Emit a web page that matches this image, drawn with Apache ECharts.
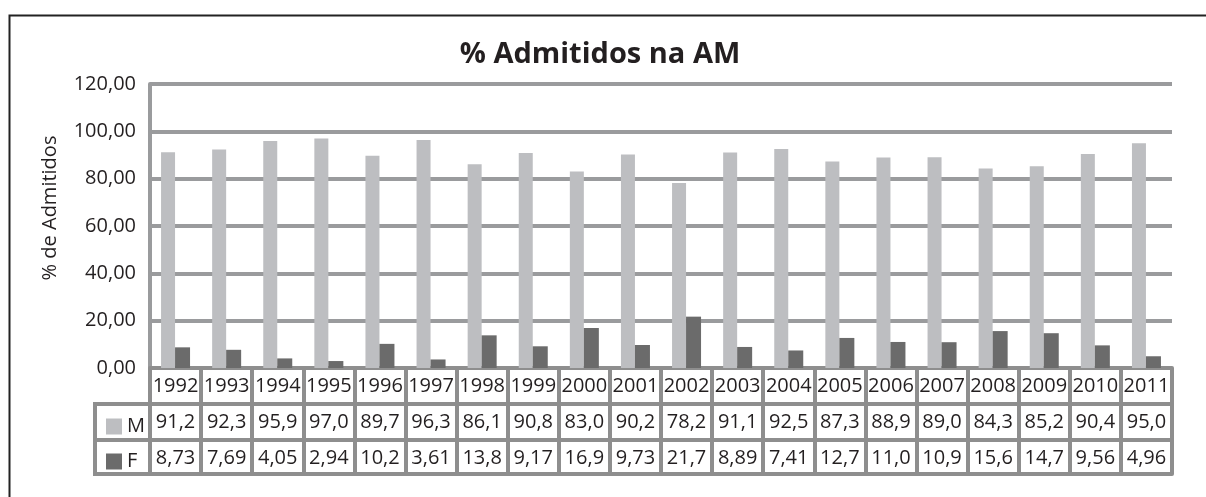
<!DOCTYPE html>
<html>
<head>
<meta charset="utf-8">
<script src="https://cdn.jsdelivr.net/npm/echarts@6/dist/echarts.min.js"></script>
<style>
  html, body { margin: 0; padding: 0; background: #fff; }
  #chart { width: 1206px; height: 497px; }
</style>
</head>
<body>
<div id="chart"></div>
<script>
// dados
var anos = ['1992','1993','1994','1995','1996','1997','1998','1999','2000','2001',
            '2002','2003','2004','2005','2006','2007','2008','2009','2010','2011'];
var masc = [91.2, 92.3, 95.9, 97.0, 89.7, 96.3, 86.1, 90.8, 83.0, 90.2,
            78.2, 91.1, 92.5, 87.3, 88.9, 89.0, 84.3, 85.2, 90.4, 95.0];
var fem = [8.73, 7.69, 4.05, 2.94, 10.2, 3.61, 13.8, 9.17, 16.9, 9.73,
           21.7, 8.89, 7.41, 12.7, 11.0, 10.9, 15.6, 14.7, 9.56, 4.96];

// formato com vírgula decimal (3 algarismos significativos)
function fmt(v) {
  return (v >= 10 ? v.toFixed(1) : v.toFixed(2)).replace('.', ',');
}

var FONT = 'Open Sans';
var TXT = '#231f20';
var LINHA = '#9a9b9d';
var GRADE = '#8e8e8e';

var myChart = echarts.init(document.getElementById('chart'));

// eixos do quadro de dados (linhas da tabela)
function linhaTabela(dados, offset, alt, mostrar) {
  return {
    type: 'category',
    data: dados,
    position: 'bottom',
    offset: offset,
    axisLine: { show: true, lineStyle: { color: GRADE, width: 4 } },
    axisTick: { show: mostrar, length: alt, lineStyle: { color: GRADE, width: 4 } },
    axisLabel: {
      show: mostrar, interval: 0, margin: 8,
      fontFamily: FONT, fontSize: 20, color: TXT
    },
    splitLine: { show: false }
  };
}

var option = {
  backgroundColor: '#fff',
  animation: false,
  title: {
    text: '% Admitidos na AM',
    left: 595,
    top: 35,
    textAlign: 'center',
    textStyle: { fontFamily: FONT, fontSize: 29, fontWeight: 'bold', color: TXT }
  },
  legend: {
    orient: 'vertical',
    left: 101,
    top: 411,
    itemWidth: 16,
    itemHeight: 16,
    itemGap: 14,
    icon: 'rect',
    textStyle: { fontFamily: FONT, fontSize: 20, color: TXT, lineHeight: 21 },
    data: ['M', 'F']
  },
  grid: { left: 150, right: 34, top: 84, bottom: 129 },
  xAxis: [
    linhaTabela(anos, 0, 36, true),
    linhaTabela(masc.map(function (v) { return v.toFixed(1).replace('.', ','); }), 36, 36, true),
    linhaTabela(fem.map(fmt), 72, 34, true),
    linhaTabela(anos, 106, 0, false)
  ],
  yAxis: {
    type: 'value',
    min: 0,
    max: 120,
    interval: 20,
    name: '% de Admitidos',
    nameLocation: 'middle',
    nameGap: 90,
    nameTextStyle: { fontFamily: FONT, fontSize: 20, color: TXT, padding: [0, 0, 0, 36] },
    axisLine: { show: true, lineStyle: { color: LINHA, width: 4 } },
    axisTick: { show: false },
    axisLabel: {
      margin: 14,
      fontFamily: FONT, fontSize: 20, color: TXT,
      padding: [6, 0, 0, 0],
      formatter: function (v) { return v.toFixed(2).replace('.', ','); }
    },
    splitLine: { show: true, lineStyle: { color: LINHA, width: 4 } }
  },
  series: [
    {
      name: 'M', type: 'bar', data: masc,
      barWidth: 14, barGap: '0%',
      itemStyle: { color: '#bdbec1' }
    },
    {
      name: 'F', type: 'bar', data: fem,
      barWidth: 15,
      itemStyle: { color: '#6b6b6b' }
    }
  ],
  graphic: [
    // moldura externa
    {
      type: 'rect', left: 7, top: 13, silent: true,
      shape: { width: 1260, height: 600 },
      style: { fill: null, stroke: '#222', lineWidth: 2 }
    },
    // bordas da coluna da legenda
    {
      type: 'polyline', silent: true,
      shape: { points: [[150, 404], [95, 404], [95, 474], [150, 474]] },
      style: { fill: null, stroke: GRADE, lineWidth: 4 }
    },
    {
      type: 'line', silent: true,
      shape: { x1: 95, y1: 440, x2: 150, y2: 440 },
      style: { stroke: GRADE, lineWidth: 4 }
    }
  ]
};

myChart.setOption(option);
</script>
</body>
</html>
